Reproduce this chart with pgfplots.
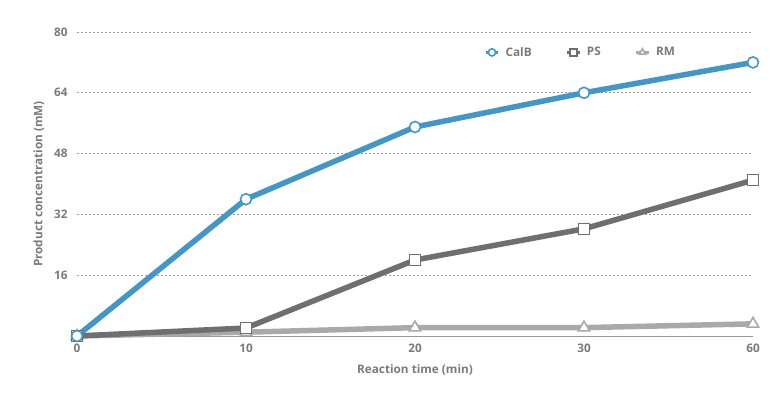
\documentclass[border=0pt]{standalone}
\usepackage{pgfplots}
\pgfplotsset{compat=1.18}
\usepackage{fontspec}
\setmainfont{Open Sans}
\definecolor{calb}{HTML}{4396C8}
\definecolor{ps}{HTML}{6E6E73}
\definecolor{rm}{HTML}{A9A9A9}
\definecolor{txt}{HTML}{7A7A7A}
\definecolor{grd}{HTML}{9A9A9A}
\begin{document}
\begin{tikzpicture}
\path (-77bp,-64bp) rectangle (693bp,336bp);
\begin{axis}[
  scale only axis, width=676bp, height=304bp,
  xmin=0, xmax=4, ymin=0, ymax=80,
  xtick={0,1,2,3,4}, xticklabels={0,10,20,30,60},
  ytick={16,32,48,64,80},
  axis x line*=bottom, axis y line*=left,
  x axis line style={draw=grd, line width=0.8pt, -},
  y axis line style={draw=none},
  ymajorgrids, grid style={dash pattern=on 1.6bp off 2.4bp, grd, line width=0.7pt},
  major tick length=0pt,
  ticklabel style={font=\fontsize{11.8}{14}\selectfont\bfseries, text=txt},
  /pgf/number format/assume math mode=true,
  xticklabel style={yshift=-4bp},
  yticklabel style={xshift=-6bp},
  xlabel={Reaction time (min)}, ylabel={Product concentration (mM)},
  label style={font=\fontsize{11.8}{14}\selectfont\bfseries, text=txt},
  xlabel style={yshift=-6bp},
  ylabel style={yshift=3bp},
  clip=false,
  legend columns=3, reverse legend,
  legend style={draw=none, fill=none, at={(0.745,0.933)}, anchor=center,
    font=\fontsize{11.8}{14}\selectfont\bfseries, text=txt,
    /tikz/every even column/.append style={column sep=32bp},
    /tikz/every odd column/.append style={column sep=4bp}},
  legend image code/.code={
    \draw[#1, line width=2.5pt] (0mm,0mm) -- (4.5mm,0mm);
    \draw[#1, mark size=3.6bp, line width=2pt] plot coordinates {(2.25mm,0mm)};},
]
\addplot[rm, line width=5.5bp, mark=triangle*, mark size=6.5bp,
  mark options={fill=white, line width=1.6pt}] coordinates {(0,0) (1,1) (2,2.2) (3,2.2) (4,3.2)};
\addplot[ps, line width=5.5bp, mark=square*, mark size=5.5bp,
  mark options={fill=white, line width=1.6pt}] coordinates {(0,0) (1,2.1) (2,20) (3,28.2) (4,41)};
\addplot[calb, line width=5.5bp, mark=*, mark size=5.5bp,
  mark options={fill=white, line width=1.6pt}] coordinates {(0,0) (1,36) (2,55) (3,64) (4,72)};
\legend{RM,PS,CalB}
\end{axis}
\end{tikzpicture}
\end{document}
